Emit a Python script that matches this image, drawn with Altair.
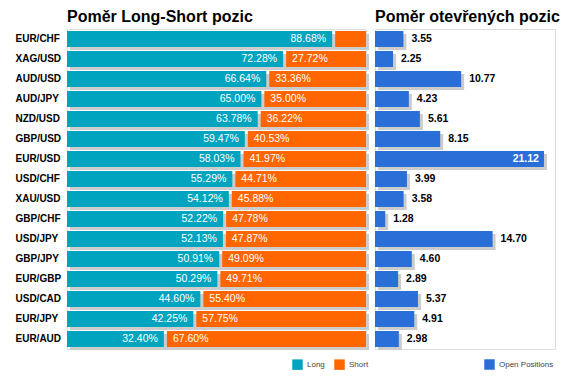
import altair as alt
import pandas as pd

pairs = ["EUR/CHF", "XAG/USD", "AUD/USD", "AUD/JPY", "NZD/USD", "GBP/USD", "EUR/USD", "USD/CHF",
         "XAU/USD", "GBP/CHF", "USD/JPY", "GBP/JPY", "EUR/GBP", "USD/CAD", "EUR/JPY", "EUR/AUD"]
long_pct = [88.68, 72.28, 66.64, 65.00, 63.78, 59.47, 58.03, 55.29, 54.12, 52.22, 52.13, 50.91, 50.29, 44.60, 42.25, 32.40]
short_pct = [11.32, 27.72, 33.36, 35.00, 36.22, 40.53, 41.97, 44.71, 45.88, 47.78, 47.87, 49.09, 49.71, 55.40, 57.75, 67.60]
open_pos = [3.55, 2.25, 10.77, 4.23, 5.61, 8.15, 21.12, 3.99, 3.58, 1.28, 14.70, 4.60, 2.89, 5.37, 4.91, 2.98]

TEAL = "#00A4BF"
ORANGE = "#FF6600"
BLUE = "#2A6FD8"
GRAY = "#CCCCCC"
FONT = "Liberation Sans"

df = pd.DataFrame({"pair": pairs, "long": long_pct, "short": short_pct, "open": open_pos})
df["total"] = 100.0
df["zero"] = 0.0
df["long_lbl"] = [f"{v:.2f}%" for v in long_pct]
df["short_lbl"] = [f"{v:.2f}%" for v in short_pct]
df["open_lbl"] = [f"{v:.2f}" for v in open_pos]
df["series"] = "Open Positions"

rows = []
for p, l, s in zip(pairs, long_pct, short_pct):
    rows.append({"pair": p, "type": "Long", "start": 0.0, "end": l})
    rows.append({"pair": p, "type": "Short", "start": l, "end": 100.0})
seg = pd.DataFrame(rows)

yscale = alt.Scale(paddingInner=0.2, paddingOuter=0.1)
y_left = alt.Y("pair:N", sort=pairs, scale=yscale, title=None,
               axis=alt.Axis(labelFont=FONT, labelFontSize=10, labelFontWeight="bold", labelColor="black",
                             ticks=False, domain=False, labelAlign="left", labelPadding=52, minExtent=58))
y_right = alt.Y("pair:N", sort=pairs, scale=yscale, title=None, axis=None)

xl = alt.Scale(domain=[0, 100])
color_lr = alt.Color("type:N", scale=alt.Scale(domain=["Long", "Short"], range=[TEAL, ORANGE]),
                     legend=alt.Legend(title=None, orient="none", legendX=225, legendY=330, direction="horizontal",
                                       symbolType="square", symbolSize=110, symbolStrokeWidth=0,
                                       labelFont=FONT, labelFontSize=8, labelColor="#444444",
                                       labelOffset=4, columnPadding=9, padding=0))

base_l = alt.Chart(df)
shadow_l = base_l.mark_bar(color=GRAY, xOffset=3, x2Offset=3, yOffset=3, y2Offset=3).encode(
    x=alt.X("zero:Q", scale=xl, axis=None), x2="total:Q", y=y_left)
long_bar = alt.Chart(seg).transform_filter(alt.datum.type == "Long").mark_bar().encode(
    x=alt.X("start:Q", scale=xl, axis=None), x2="end:Q", y=y_left, color=color_lr)
short_bar = alt.Chart(seg).transform_filter(alt.datum.type == "Short").mark_bar(xOffset=3).encode(
    x=alt.X("start:Q", scale=xl, axis=None), x2="end:Q", y=y_left, color=color_lr)
long_txt = base_l.mark_text(align="right", baseline="middle", dx=-6, color="white", font=FONT, fontSize=10.5).encode(
    x=alt.X("long:Q", scale=xl, axis=None), y=y_left, text="long_lbl:N")
short_txt = base_l.transform_filter(alt.datum.short >= 15).mark_text(
    align="left", baseline="middle", dx=9, color="white", font=FONT, fontSize=10.5).encode(
    x=alt.X("long:Q", scale=xl, axis=None), y=y_left, text="short_lbl:N")

left = alt.layer(shadow_l, long_bar, short_bar, long_txt, short_txt).properties(
    width=299, height=320,
    title=alt.TitleParams("Poměr Long-Short pozic", anchor="start", frame="group", fontSize=16,
                          fontWeight="bold", font=FONT, color="black", offset=4))

W_R = 180
xr = alt.Scale(domain=[0, W_R / 8.0])
color_r = alt.Color("series:N", scale=alt.Scale(domain=["Open Positions"], range=[BLUE]),
                    legend=alt.Legend(title=None, orient="none", legendX=109, legendY=330,
                                      symbolType="square", symbolSize=110, symbolStrokeWidth=0,
                                      labelFont=FONT, labelFontSize=8, labelColor="#444444",
                                      labelOffset=4, padding=0))
base_r = alt.Chart(df)
shadow_r = base_r.mark_bar(color=GRAY, xOffset=3, x2Offset=3, yOffset=3, y2Offset=3).encode(
    x=alt.X("zero:Q", scale=xr, axis=None), x2="open:Q", y=y_right)
open_bar = base_r.mark_bar().encode(
    x=alt.X("zero:Q", scale=xr, axis=None), x2="open:Q", y=y_right, color=color_r)
open_txt_out = base_r.transform_filter(alt.datum.open < 18).mark_text(
    align="left", baseline="middle", dx=8, color="black", font=FONT,
    fontSize=10.5, fontWeight="bold").encode(
    x=alt.X("open:Q", scale=xr, axis=None), y=y_right, text="open_lbl:N")
open_txt_in = base_r.transform_filter(alt.datum.open >= 18).mark_text(
    align="right", baseline="middle", dx=-5, color="white", font=FONT,
    fontSize=10.5, fontWeight="bold").encode(
    x=alt.X("open:Q", scale=xr, axis=None), y=y_right, text="open_lbl:N")

right = alt.layer(shadow_r, open_bar, open_txt_out, open_txt_in).properties(
    width=W_R, height=320,
    title=alt.TitleParams("Poměr otevřených pozic", anchor="start", frame="group", fontSize=16,
                          fontWeight="bold", font=FONT, color="black", offset=4))

chart = alt.hconcat(left, right, spacing=4).resolve_scale(color="independent").properties(
    padding=0).configure_view(stroke=None).configure(font=FONT)

chart.save("out.html", embed_options={"renderer": "svg", "actions": False})
